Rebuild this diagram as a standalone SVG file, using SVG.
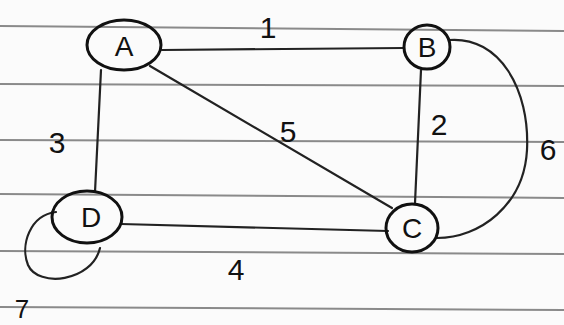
<svg xmlns="http://www.w3.org/2000/svg" width="564" height="325" viewBox="0 0 564 325">
<style>
.rule{stroke:#8a8a8a;stroke-width:2;fill:none}
.edge{stroke:#222;stroke-width:2.2;fill:none;stroke-linecap:round}
.node{stroke:#111;stroke-width:3;fill:none}
.lbl{font-family:"Liberation Sans",Arial,sans-serif;font-size:30px;fill:#111;text-anchor:middle}
.nl{font-family:"Liberation Sans",Arial,sans-serif;font-size:28px;fill:#111;text-anchor:middle}
</style>
<rect width="564" height="325" fill="#fbfbfb"/>
<g id="paper">
<path class="rule" d="M0 26 L564 31"/>
<path class="rule" d="M0 84 L564 86"/>
<path class="rule" d="M0 140 L564 142"/>
<path class="rule" d="M0 194 L564 198"/>
<path class="rule" d="M0 251 L564 254"/>
<path class="rule" d="M0 307 L564 310"/>
</g>
<g id="connectors">
<path class="edge" d="M162 50 L404 48"/>
<path class="edge" d="M150 66 L392 208"/>
<path class="edge" d="M421 70 L415 203"/>
<path class="edge" d="M101 70 L95 192"/>
<path class="edge" d="M121 224 L388 231"/>
<path class="edge" d="M449 40 C500 36 530 90 527 150 C524 205 480 238 437 238"/>
<path class="edge" d="M56 212 C30 215 20 245 28 265 C38 288 92 282 100 248"/>
<text class="lbl" x="268" y="38">1</text>
<text class="lbl" x="288" y="142">5</text>
<text class="lbl" x="439" y="135">2</text>
<text class="lbl" x="57" y="153">3</text>
<text class="lbl" x="236" y="280">4</text>
<text class="lbl" x="548" y="160">6</text>
<text class="lbl" x="22" y="318" style="font-size:26px">7</text>
</g>
<g id="node-A"><ellipse class="node" cx="124" cy="45" rx="37" ry="25"/><text class="nl" x="124" y="56">A</text></g>
<g id="node-B"><ellipse class="node" cx="427" cy="47" rx="23" ry="22"/><text class="nl" x="427" y="57">B</text></g>
<g id="node-C"><ellipse class="node" cx="412" cy="228" rx="26" ry="24"/><text class="nl" x="412" y="238">C</text></g>
<g id="node-D"><ellipse class="node" cx="87" cy="217" rx="35" ry="26"/><text class="nl" x="91" y="227">D</text></g>
</svg>
